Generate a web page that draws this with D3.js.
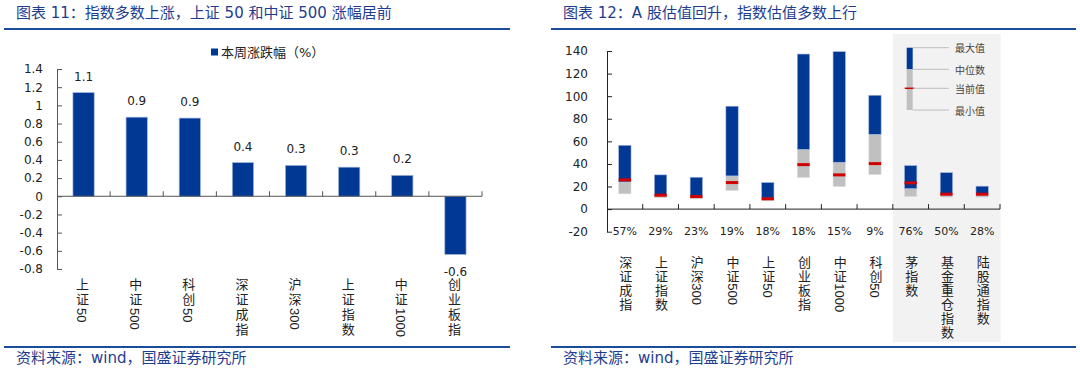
<!DOCTYPE html>
<html><head><meta charset="utf-8">
<script src="https://cdn.jsdelivr.net/npm/d3@7"></script>
<style>
html,body{margin:0;padding:0;background:#fff;}
svg{display:block;}
.vt{writing-mode:vertical-rl;text-orientation:mixed;}
</style></head>
<body>
<svg id="c" width="1080" height="368"></svg>
<script>
// ---------- data ----------
const leftCats = ["上证50","中证500","科创50","深证成指","沪深300","上证指数","中证1000","创业板指"];
const leftVals = [1.14, 0.87, 0.86, 0.37, 0.34, 0.32, 0.23, -0.64];
const leftTicks = [1.4,1.2,1,0.8,0.6,0.4,0.2,0,-0.2,-0.4,-0.6,-0.8];
const leftLegend = "本周涨跌幅（%）";

const rightCats = ["深证成指","上证指数","沪深300","中证500","上证50","创业板指","中证1000","科创50","茅指数","基金重仓指数","陆股通指数"];
const rightPct  = ["57%","29%","23%","19%","18%","18%","15%","9%","76%","50%","28%"];
const rightMax  = [56.5, 30.3, 28.2, 91.1, 23.5, 137.3, 139.4, 100.8, 38.5, 32.3, 20.3];
const rightMed  = [24.1, 13.0, 11.6, 29.4, 9.8, 52.9, 41.5, 66.2, 18.2, 13.8, 13.8];
const rightCur  = [25.9, 12.3, 11.1, 23.5, 9.1, 39.4, 30.3, 40.3, 23.2, 13.2, 13.2];
const rightMin  = [13.5, 10.0, 9.1, 16.4, 7.6, 27.9, 19.9, 30.5, 11.1, 10.6, 10.6];
const rightTicks = [140,120,100,80,60,40,20,0,-20];
const legendItems = ["最大值","中位数","当前值","最小值"];

const titleL = "图表 11：指数多数上涨，上证 50 和中证 500 涨幅居前";
const titleR = "图表 12：A 股估值回升，指数估值多数上行";
const source = "资料来源：wind，国盛证券研究所";

// ---------- style ----------
const NUM = "'DejaVu Sans','Noto Sans CJK SC',sans-serif";
const CJK = "'Noto Sans CJK SC',sans-serif";
const VFONT = "'Liberation Sans','Noto Sans CJK SC',sans-serif";
const BLUE = "#003894";
const GRAY = "#c0c0c0";
const RED = "#d00000";
const HEAD = "#1f3d8f";
const LINE = "#1a4c9c";

const svg = d3.select("#c");
svg.append("rect").attr("width",1080).attr("height",368).attr("fill","#fff");

// headers / footers
function header(x0, x1, tx, title){
  svg.append("text").attr("x",tx).attr("y",18).attr("font-family",NUM).attr("font-size",15)
    .attr("fill",HEAD).text(title);
  svg.append("line").attr("x1",x0).attr("x2",x1).attr("y1",29).attr("y2",29)
    .attr("stroke",LINE).attr("stroke-width",2);
  svg.append("line").attr("x1",x0).attr("x2",x1).attr("y1",347).attr("y2",347)
    .attr("stroke",LINE).attr("stroke-width",2);
  svg.append("text").attr("x",tx).attr("y",363).attr("font-family",NUM).attr("font-size",15)
    .attr("fill",HEAD).text(source);
}
header(4, 510, 16, titleL);
header(551, 1076, 563, titleR);

// vertical label as a single vertical-writing text; CJK upright with spacing, digits rotated & tight
function isCJK(ch){ return /[\u3000-\u9fff\uff00-\uffef]/.test(ch); }
function vlabel(g, text, cx, yTop, spacing, size, color){
  const t = g.append("text").attr("class","vt").attr("x",cx).attr("y",yTop)
    .attr("font-family",VFONT).attr("font-size",size).attr("fill",color);
  const runs = [];
  for (const ch of text){
    const c = isCJK(ch);
    if (runs.length && runs[runs.length-1].c === c) runs[runs.length-1].t += ch;
    else runs.push({t:ch, c});
  }
  runs.forEach(r=>{
    t.append("tspan").attr("letter-spacing", r.c ? spacing : 0).text(r.t);
  });
}

// ---------- left chart ----------
{
  const g = svg.append("g");
  const x = d3.scaleBand().domain(leftCats).range([57, 482]).paddingInner(0.6).paddingOuter(0.3);
  const y = d3.scaleLinear().domain([-0.8, 1.4]).range([269, 69]);
  const AX = "#555";

  g.selectAll("rect.bar").data(leftVals).join("rect").attr("class","bar")
    .attr("x",(d,i)=>x(leftCats[i])).attr("width",x.bandwidth())
    .attr("y",d=>y(Math.max(0,d))).attr("height",d=>Math.abs(y(d)-y(0)))
    .attr("fill",BLUE).attr("stroke","#9fb2dc").attr("stroke-width",0.7);

  g.selectAll("text.val").data(leftVals).join("text").attr("class","val")
    .attr("x",(d,i)=>x(leftCats[i])+x.bandwidth()/2)
    .attr("y",d=> d>=0 ? y(d)-16 : y(d)+18)
    .attr("text-anchor","middle").attr("dominant-baseline","central")
    .attr("font-family",NUM).attr("font-size",12).attr("fill","#222")
    .text(d=>d3.format(".1f")(d).replace("\u2212","-"));

  const ya = d3.axisLeft(y).tickValues(leftTicks).tickFormat(d=>String(d))
    .tickSizeInner(-5).tickSizeOuter(0).tickPadding(14);
  const yg = g.append("g").attr("transform","translate(57,0)").call(ya);
  yg.selectAll("path,line").attr("stroke",AX);
  yg.selectAll("text").attr("font-family",NUM).attr("font-size",12).attr("fill","#222");

  // x axis at zero
  g.append("line").attr("x1",57).attr("x2",482).attr("y1",y(0)).attr("y2",y(0)).attr("stroke",AX);
  const step = x.step();
  g.selectAll("line.xt").data(d3.range(1, leftCats.length+1)).join("line").attr("class","xt")
    .attr("x1",k=>57+step*k).attr("x2",k=>57+step*k).attr("y1",y(0)).attr("y2",y(0)-5).attr("stroke",AX);

  leftCats.forEach(c=>vlabel(g, c, x(c)+x.bandwidth()/2 - 2, 278, 2, 13, "#222"));

  // legend
  g.append("rect").attr("x",211).attr("y",48.5).attr("width",7).attr("height",7).attr("fill",BLUE);
  g.append("text").attr("x",221).attr("y",52).attr("dominant-baseline","central")
    .attr("font-family",NUM).attr("font-size",13).attr("fill","#222").text(leftLegend);
}

// ---------- right chart ----------
{
  const g = svg.append("g");
  const x = d3.scaleBand().domain(rightCats).range([607, 1000]).paddingInner(0.655).paddingOuter(0.3275);
  const y = d3.scaleLinear().domain([-20, 140]).range([231.7, 51]);
  const AX = "#222";

  // shaded region for last three
  const s0 = 607 + x.step()*8;
  g.append("rect").attr("x",s0).attr("y",34).attr("width",1000.7-s0).attr("height",342-34).attr("fill","#f2f2f2");

  const idx = d3.range(rightCats.length);
  // gray: min -> median
  g.selectAll("rect.lo").data(idx).join("rect").attr("class","lo")
    .attr("x",i=>x(rightCats[i])).attr("width",x.bandwidth())
    .attr("y",i=>y(rightMed[i])).attr("height",i=>y(rightMin[i])-y(rightMed[i]))
    .attr("fill",GRAY).attr("stroke","#e0e0e0").attr("stroke-width",0.6);
  // blue: median -> max
  g.selectAll("rect.hi").data(idx).join("rect").attr("class","hi")
    .attr("x",i=>x(rightCats[i])).attr("width",x.bandwidth())
    .attr("y",i=>y(rightMax[i])).attr("height",i=>y(rightMed[i])-y(rightMax[i]))
    .attr("fill",BLUE).attr("stroke","#9fb2dc").attr("stroke-width",0.6);
  // current value
  g.selectAll("line.cur").data(idx).join("line").attr("class","cur")
    .attr("x1",i=>x(rightCats[i])).attr("x2",i=>x(rightCats[i])+x.bandwidth())
    .attr("y1",i=>y(rightCur[i])).attr("y2",i=>y(rightCur[i]))
    .attr("stroke",RED).attr("stroke-width",3);

  const ya = d3.axisLeft(y).tickValues(rightTicks).tickFormat(d=>String(d))
    .tickSizeInner(-5).tickSizeOuter(0).tickPadding(19);
  const yg = g.append("g").attr("transform","translate(607,0)").call(ya);
  yg.selectAll("path,line").attr("stroke",AX);
  yg.selectAll("text").attr("font-family",NUM).attr("font-size",12).attr("fill","#222");

  g.append("line").attr("x1",607).attr("x2",1000).attr("y1",y(0)).attr("y2",y(0)).attr("stroke",AX);
  const step = x.step();
  g.selectAll("line.xt").data(d3.range(1, rightCats.length+1)).join("line").attr("class","xt")
    .attr("x1",k=>607+step*k).attr("x2",k=>607+step*k).attr("y1",y(0)).attr("y2",y(0)-5).attr("stroke",AX);

  g.selectAll("text.pct").data(rightPct).join("text").attr("class","pct")
    .attr("x",(d,i)=>x(rightCats[i])+x.bandwidth()/2).attr("y",231.5)
    .attr("text-anchor","middle").attr("dominant-baseline","central")
    .attr("font-family",NUM).attr("font-size",11).attr("fill","#222").text(d=>d);

  rightCats.forEach(c=>vlabel(g, c, x(c)+x.bandwidth()/2, 255.2, 1, 13, "#222"));

  // legend (schematic)
  const lx = 906.7, lw = 6;
  const ly = [47.7, 69.3, 88.3, 110];
  g.append("rect").attr("x",lx).attr("y",ly[0]).attr("width",lw).attr("height",ly[1]-ly[0]).attr("fill",BLUE);
  g.append("rect").attr("x",lx).attr("y",ly[1]).attr("width",lw).attr("height",ly[3]-ly[1]).attr("fill",GRAY);
  g.append("line").attr("x1",lx-2).attr("x2",lx+lw+1.5).attr("y1",ly[2]).attr("y2",ly[2]).attr("stroke",RED).attr("stroke-width",1.5);
  g.selectAll("line.lg").data(ly).join("line").attr("class","lg")
    .attr("x1",lx+lw).attr("x2",949).attr("y1",d=>d).attr("y2",d=>d).attr("stroke","#b0b0b0").attr("stroke-width",0.8);
  g.selectAll("text.lg").data(legendItems).join("text").attr("class","lg")
    .attr("x",955).attr("y",(d,i)=>ly[i]).attr("dominant-baseline","central")
    .attr("font-family",CJK).attr("font-size",10).attr("fill","#444").text(d=>d);
}
</script>
</body></html>
